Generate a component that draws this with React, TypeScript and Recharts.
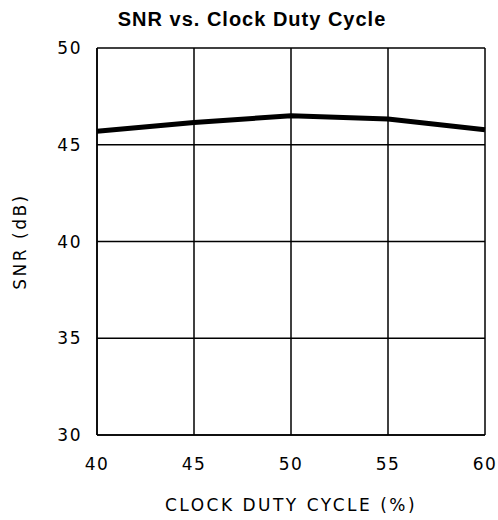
import React from 'react';
import { LineChart, Line, XAxis, YAxis, CartesianGrid } from 'recharts';

const dutyCycle = [40, 45, 50, 55, 60];
const snr = [45.7, 46.15, 46.5, 46.33, 45.77];
const xTicks = [40, 45, 50, 55, 60];
const yTicks = [30, 35, 40, 45, 50];

const data = dutyCycle.map((d, i) => ({ duty: d, snr: snr[i] }));

const tickFont = { fontFamily: 'DejaVu Sans', fontSize: 17, fill: '#000', letterSpacing: 1.5 };

const App: React.FC = () => {
    return (
        <div style={{ position: 'absolute', left: 0, top: 0, width: 498, height: 520, background: '#fff' }}>
            <div
                style={{
                    position: 'absolute',
                    top: 7,
                    left: 0,
                    width: 504,
                    textAlign: 'center',
                    fontFamily: 'Liberation Sans',
                    fontWeight: 'bold',
                    fontSize: 20,
                    letterSpacing: 1,
                    lineHeight: '24px',
                }}
            >
                SNR vs. Clock Duty Cycle
            </div>
            <LineChart
                width={498}
                height={520}
                data={data}
                margin={{ top: 48, right: 13, bottom: 0, left: 0 }}
            >
                <CartesianGrid stroke="#000" strokeWidth={1.5} strokeOpacity={1} />
                <XAxis
                    dataKey="duty"
                    type="number"
                    domain={[40, 60]}
                    ticks={xTicks}
                    height={85}
                    tickLine={false}
                    axisLine={{ stroke: '#000', strokeWidth: 1.5 }}
                    tick={tickFont}
                    tickMargin={17}
                    label={{
                        value: 'CLOCK DUTY CYCLE (%)',
                        position: 'insideBottom',
                        offset: 9,
                        style: { fontFamily: 'DejaVu Sans', fontSize: 17, fill: '#000', letterSpacing: 2.5 },
                    }}
                />
                <YAxis
                    type="number"
                    domain={[30, 50]}
                    ticks={yTicks}
                    width={97}
                    tickLine={false}
                    axisLine={{ stroke: '#000', strokeWidth: 1.5 }}
                    tick={tickFont}
                    tickMargin={9}
                    label={{
                        value: 'SNR (dB)',
                        angle: -90,
                        position: 'insideLeft',
                        offset: 20,
                        style: { textAnchor: 'middle', fontFamily: 'DejaVu Sans', fontSize: 17, fill: '#000', letterSpacing: 2.5 },
                    }}
                />
                <Line
                    dataKey="snr"
                    stroke="#000"
                    strokeWidth={5}
                    dot={false}
                    type="linear"
                    isAnimationActive={false}
                />
            </LineChart>
        </div>
    );
};

export default App;
